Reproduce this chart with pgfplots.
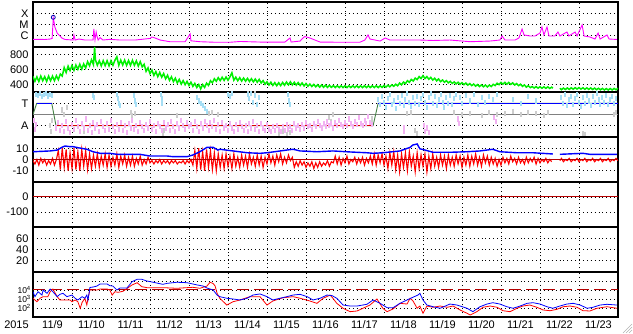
\documentclass[border=0pt]{standalone}
\usepackage{pgfplots}
\pgfplotsset{compat=1.18}
\usepackage{fontspec}
\setmainfont{Liberation Sans}
\definecolor{mag}{RGB}{255,0,255}
\definecolor{grn}{RGB}{0,240,0}
\definecolor{ltblue}{RGB}{165,222,245}
\definecolor{ltpink}{RGB}{242,178,242}
\definecolor{ltgray}{RGB}{205,205,205}
\definecolor{midgray}{RGB}{128,128,128}
\definecolor{dred}{RGB}{180,0,0}
\definecolor{stepgreen}{RGB}{70,130,70}
\newcommand{\lbl}{\fontsize{11}{12}\selectfont}
\newcommand{\slbl}{\fontsize{8.5}{8.5}\selectfont}
\newcommand{\rtf}{\fontsize{9}{9}\selectfont}
\pgfplotsset{
 panel/.style={scale only axis, width=585pt, height=45pt, xmin=0, xmax=15,
   axis line style={black, line width=1.2pt},
   xtick={0.5,1.5,...,14.5}, xticklabels={}, minor xtick={1,...,14},
   xminorgrids=true, xmajorgrids=false, ymajorgrids=true,
   minor grid style={black, line width=0.9pt, dash pattern=on 0.9pt off 3pt},
   major grid style={black, line width=0.9pt, dash pattern=on 0.9pt off 3pt},
   major tick length=0pt, minor tick length=0pt,
   yticklabel style={font=\lbl, anchor=east, xshift=-1pt},
   xticklabel style={font=\lbl},
   unbounded coords=jump, anchor=north west,
 },
 zig/.style={mark=|, only marks, mark size=2.6pt, mark options={line width=2pt}},
}
\begin{document}
\begin{tikzpicture}
\path[use as bounding box] (0,0) rectangle (633pt,-334pt);
% X-ray
\begin{axis}[panel, at={(33pt,-2pt)}, ymin=-7, ymax=-3, ytick={-6,-5,-4}, yticklabels={C,M,X}]
\addplot[mag, line width=0.9pt] table {
0 -6.32
0.31 -6.33
0.44 -6.29
0.49 -6.24
0.52 -4.42
0.54 -4.78
0.56 -5.22
0.62 -5.76
0.69 -6.02
0.74 -6.2
0.82 -6.33
1.03 -6.38
1.05 -5.93
1.08 -6.38
1.18 -6.29
1.33 -6.38
1.54 -6.38
1.56 -5.4
1.59 -6.38
1.62 -5.67
1.64 -6.02
1.67 -6.38
1.72 -6.16
1.79 -6.38
1.97 -6.32
2.23 -6.38
2.62 -6.38
3.0 -6.24
3.05 -6.11
3.13 -6.2
3.26 -6.38
3.51 -6.53
3.9 -6.53
4.03 -5.84
4.05 -6.45
4.28 -6.53
4.67 -6.58
5.05 -6.58
5.31 -6.51
5.82 -6.56
6.46 -6.56
6.59 -6.2
6.62 -6.56
6.85 -6.47
6.92 -6.2
6.97 -6.07
7.10 -6.2
7.23 -6.38
7.36 -6.56
7.87 -6.58
8.38 -6.58
8.51 -6.38
8.59 -5.93
8.64 -6.29
8.90 -6.47
9.03 -6.2
9.15 -6.38
9.41 -6.38
9.92 -6.38
10.26 -6.42
10.69 -6.38
11.21 -6.53
11.72 -6.47
11.97 -6.38
12.03 -6.02
12.10 -6.38
12.36 -6.38
12.46 -6.2
12.54 -5.4
12.59 -5.93
12.74 -6.02
12.87 -6.02
13.0 -5.76
13.05 -5.22
13.10 -5.93
13.18 -5.22
13.23 -6.02
13.38 -6.02
13.46 -5.67
13.51 -6.02
13.69 -5.67
13.74 -6.02
13.90 -5.67
13.95 -6.02
14.08 -5.04
14.13 -6.02
14.28 -6.11
14.41 -6.29
14.49 -5.76
14.54 -6.29
14.72 -5.93
14.77 -6.29
14.97 -6.33
};
\addplot[only marks, mark=o, mark size=2pt, blue!70!black, mark options={line width=0.8pt}] coordinates {(0.52,-4.36)};
\node[font=\rtf, anchor=west] at (rel axis cs:1,0.78) {rt};
\end{axis}
% Solar wind speed
\begin{axis}[panel, at={(33pt,-47pt)}, ymin=300, ymax=900, ytick={400,600,800}, yticklabels={400,600,800}]
\addplot[grn, line width=1.5pt] table {
0.00 508
0.05 443
0.10 502
0.15 439
0.20 513
0.25 450
0.30 505
0.35 441
0.40 512
0.45 450
0.50 512
0.55 451
0.60 517
0.65 464
0.70 540
0.75 513
0.80 625
0.85 560
0.90 645
0.95 585
1.00 655
1.05 589
1.10 660
1.15 602
1.20 671
1.25 606
1.30 675
1.35 620
1.40 705
1.45 650
1.50 730
1.55 665
1.58 900
1.60 730
1.65 657
1.70 717
1.75 649
1.80 718
1.85 651
1.90 718
1.95 648
2.00 717
2.05 656
2.10 723
2.15 770
2.20 655
2.25 725
2.30 660
2.35 725
2.40 655
2.45 720
2.50 655
2.55 723
2.60 655
2.65 716
2.70 645
2.75 705
2.80 635
2.85 670
2.90 575
2.95 622
3.00 545
3.05 592
3.10 520
3.15 572
3.20 505
3.25 561
3.30 497
3.35 546
3.40 475
3.45 524
3.50 455
3.55 502
3.60 437
3.65 484
3.70 420
3.75 468
3.80 405
3.85 452
3.90 397
3.95 442
4.00 387
4.05 431
4.10 375
4.15 414
4.20 360
4.25 400
4.30 341
4.35 399
4.40 361
4.45 418
4.50 388
4.55 450
4.60 423
4.65 477
4.70 443
4.75 491
4.80 451
4.85 497
4.90 454
4.95 500
5.00 457
5.05 502
5.10 557
5.15 457
5.20 498
5.25 450
5.30 491
5.35 446
5.40 486
5.45 444
5.50 482
5.55 440
5.60 478
5.65 435
5.70 473
5.75 430
5.80 468
5.85 420
5.90 452
5.95 404
6.00 436
6.05 393
6.10 431
6.15 388
6.20 425
6.25 384
6.30 423
6.35 385
6.40 428
6.45 390
6.50 433
6.55 395
6.60 436
6.65 394
6.70 430
6.75 392
6.80 426
6.85 387
6.90 421
6.95 381
7.00 413
7.05 377
7.10 405
7.15 373
7.20 401
7.25 369
7.30 397
7.35 365
7.40 394
7.45 363
7.50 392
7.55 361
7.60 390
7.65 362
7.70 385
7.75 360
7.80 384
7.85 359
7.90 383
7.95 359
8.00 383
8.05 359
8.10 383
8.15 359
8.20 383
8.25 359
8.30 383
8.35 359
8.40 383
8.45 359
8.50 383
8.55 359
8.60 383
8.65 359
8.70 383
8.75 359
8.80 383
8.85 359
8.90 383
8.95 361
9.00 387
9.05 365
9.10 391
9.15 369
9.20 395
9.25 376
9.30 404
9.35 383
9.40 420
9.45 396
9.50 433
9.55 412
9.60 451
9.65 429
9.70 468
9.75 446
9.80 485
9.85 465
9.90 505
9.95 480
10.00 518
10.05 480
10.10 505
10.15 470
10.20 495
10.25 459
10.30 484
10.35 449
10.40 474
10.45 438
10.50 460
10.55 431
10.60 451
10.65 422
10.70 442
10.75 414
10.80 434
10.85 408
10.90 430
10.95 403
11.00 425
11.05 398
11.10 420
11.15 392
11.20 412
11.25 385
11.30 406
11.35 378
11.40 399
11.45 373
11.50 395
11.55 370
11.60 393
11.65 368
11.70 392
11.75 373
11.80 402
11.85 386
11.90 417
11.95 398
12.00 428
12.05 404
12.10 428
12.15 404
12.20 428
12.25 401
12.30 422
12.35 393
12.40 412
12.45 384
12.50 404
12.55 375
12.60 394
12.65 365
12.70 384
12.75 358
12.80 373
12.85 353
12.90 372
12.95 351
13.00 370
13.05 350
13.10 369
13.15 349
13.20 368
13.25 347
13.30 365
13.33 350
13.40 nan
13.51 350
13.55 331
13.60 352
13.65 333
13.70 354
13.75 335
13.80 356
13.85 337
13.90 358
13.95 339
14.00 359
14.05 338
14.10 357
14.15 336
14.20 355
14.25 335
14.30 354
14.35 333
14.40 352
14.45 331
14.50 350
14.55 329
14.60 348
14.65 327
14.70 346
14.75 326
14.80 347
14.85 327
14.90 348
14.95 329
15.00 350
};
\node[font=\rtf, anchor=west] at (rel axis cs:1,0.78) {rt};
\end{axis}
% Sector
\begin{axis}[panel, at={(33pt,-92pt)}, ymin=0, ymax=4, ytick={1,3}, yticklabels={A,T}]
\addplot[zig, ltgray] coordinates {
(0.44,1.0) (0.46,0.5) (0.48,1.5) (0.75,2.4) (0.8,2.0) (0.88,2.6) (1.3,0.5)
(2.5,2.2) (2.55,1.9) (2.62,2.1) (3.33,0.3) (3.35,0.6) (3.7,1.9)
(4.5,2.1) (4.6,2.2) (4.75,2.0) (5.5,3.9) (5.6,3.85) (5.7,3.9)
(6.3,0.3) (6.4,0.5) (6.5,0.2) (6.6,0.4) (7.6,1.7) (7.65,1.4) (7.7,2.0)
(8.7,1.6) (9.6,2.1) (9.7,2.2) (9.8,0.6) (9.85,0.3) (10.8,2.2) (11.0,2.0)
(11.2,2.1) (11.5,1.9) (11.7,2.2) (11.9,2.0) (12.1,2.1) (12.3,2.3)
(12.5,2.0) (12.7,2.2) (12.9,2.1) (13.1,1.9) (13.2,2.2) (14.1,0.3)
(14.15,0.2) (14.9,2.0) (14.95,2.2)};
\addplot[zig, ltpink] coordinates {
(0.02,1.5) (0.05,0.7) (0.08,1.1)
(0.6,0.8) (0.65,1.3) (0.7,0.6) (0.75,1.0) (0.8,0.5) (0.85,1.4) (0.9,0.8) (0.95,0.4)
(1.0,1.1) (1.05,0.7) (1.1,1.5) (1.15,0.9) (1.2,0.5) (1.25,1.2) (1.3,0.8) (1.35,1.6)
(1.4,0.6) (1.45,1.0) (1.5,0.4) (1.55,1.3) (1.6,0.8) (1.65,1.1) (1.7,0.5) (1.75,1.4)
(1.8,0.9) (1.85,0.6) (1.9,1.2) (1.95,0.7) (2.0,1.5) (2.05,0.9) (2.1,0.5) (2.15,1.1)
(2.2,0.7) (2.25,1.3) (2.3,0.6) (2.35,1.0) (2.4,0.4) (2.45,1.2) (2.5,0.8) (2.55,1.5)
(2.6,0.7) (2.65,1.0) (2.7,0.5) (2.75,1.3) (2.8,0.9) (2.85,0.6) (2.9,1.1) (2.95,0.8)
(3.0,1.4) (3.05,0.7) (3.1,1.0) (3.15,0.5) (3.2,1.2) (3.25,0.9) (3.3,0.6) (3.35,1.3)
(3.4,0.8) (3.45,1.1) (3.5,0.6) (3.55,1.4) (3.6,0.9) (3.65,0.5) (3.7,1.2) (3.75,0.8)
(3.8,1.5) (3.85,1.0) (3.9,0.7) (3.95,1.3) (4.0,0.9) (4.05,1.1) (4.1,0.6) (4.15,1.4)
(4.2,0.9) (4.25,0.5) (4.3,1.2) (4.35,0.8) (4.4,1.4) (4.45,1.0) (4.5,0.6) (4.55,1.3)
(4.6,0.9) (4.65,1.5) (4.7,0.7) (4.75,1.1) (4.8,0.5) (4.85,1.3) (4.9,0.8) (4.95,1.0)
(5.0,0.6) (5.05,1.2) (5.1,0.8) (5.15,0.5) (5.2,1.1) (5.25,0.7) (5.3,1.3) (5.35,0.9)
(5.4,0.6) (5.45,1.0) (5.5,0.5) (5.55,1.2) (5.6,0.8) (5.65,1.4) (5.7,0.7) (5.75,1.0)
(5.8,0.5) (5.85,1.2) (5.9,0.8) (5.95,0.6) (6.0,1.1) (6.05,0.7) (6.1,0.5) (6.15,0.9)
(6.2,0.6) (6.25,1.0) (6.3,0.7) (6.35,0.5) (6.4,0.9) (6.45,0.6) (6.5,1.1) (6.55,0.7)
(6.6,0.9) (6.65,0.6) (6.7,1.2) (6.75,0.8) (6.8,1.0) (6.85,0.7) (6.9,1.1) (6.95,0.8)
(7.0,1.3) (7.05,0.9) (7.1,1.0) (7.15,0.7) (7.2,1.2) (7.25,0.9) (7.3,1.4) (7.35,1.0)
(7.4,0.8) (7.45,1.2) (7.5,0.9) (7.55,1.4) (7.6,1.0) (7.65,1.2) (7.7,0.8) (7.75,1.3)
(7.8,1.0) (7.85,1.5) (7.9,1.1) (7.95,0.9) (8.0,1.3) (8.05,1.0) (8.1,1.6) (8.15,1.2)
(8.2,0.9) (8.25,1.4) (8.3,1.1) (8.35,1.7) (8.4,1.2) (8.45,1.0) (8.5,1.5) (8.55,1.2)
(8.6,1.8) (8.65,1.3) (8.7,1.1)
(9.5,0.8) (9.52,0.5) (10.02,1.0) (10.06,0.5) (10.1,0.8) (10.15,0.4) (10.9,1.6)
(10.93,1.2) (11.82,1.7) (11.86,1.4)};
\addplot[zig, ltblue] coordinates {
(0.08,3.8) (0.12,3.7) (0.18,3.85) (0.22,3.6) (0.28,3.75) (0.33,3.9) (0.38,3.65) (0.44,3.8) (0.48,3.7)
(1.54,3.7) (1.56,3.5) (2.15,3.8) (2.18,3.4) (2.2,3.0) (2.22,2.8)
(2.58,3.7) (2.62,3.2) (2.65,2.9) (3.27,3.8) (3.3,3.4) (3.32,3.0)
(4.2,3.5) (4.25,3.2) (4.3,3.0) (4.35,2.8) (4.4,2.5) (4.45,2.3)
(5.0,3.8) (5.05,3.6) (5.1,3.9) (5.5,3.8) (5.55,3.4) (5.6,3.9) (5.65,3.1) (5.7,3.7) (5.75,2.9) (5.8,3.5)
(6.54,3.8) (6.57,3.2) (6.59,2.9)
(8.85,3.3) (8.9,2.9) (8.95,3.6) (9.0,3.1) (9.05,2.6) (9.1,3.4) (9.15,3.8) (9.2,2.9) (9.25,3.2)
(9.3,2.5) (9.35,3.5) (9.4,3.0) (9.45,3.7) (9.5,2.8) (9.55,3.3) (9.6,3.9) (9.65,3.1) (9.7,2.7)
(9.75,3.5) (9.8,3.0) (9.85,3.6) (9.9,2.9) (9.95,3.4) (10.0,3.8) (10.05,3.1) (10.1,2.6)
(10.15,3.5) (10.2,3.9) (10.25,3.0) (10.3,3.6) (10.35,2.8) (10.4,3.3) (10.45,3.8) (10.5,3.1)
(10.55,2.6) (10.6,3.5) (10.65,3.0) (10.7,3.7) (10.75,2.9) (10.8,3.4) (10.85,3.8)
(10.95,3.5) (11.0,3.0) (11.1,3.7) (11.2,3.2) (11.3,3.8) (11.4,2.9) (11.5,3.5) (11.6,3.1)
(11.7,3.6) (11.8,3.3) (11.9,3.8) (12.3,3.3) (12.5,3.0) (12.7,3.6) (12.9,3.2)
(13.55,3.5) (13.6,3.0) (13.65,3.8) (13.7,2.8) (13.75,3.3) (13.8,3.6) (13.85,2.9) (13.9,3.4)
(13.95,3.8) (14.0,3.1) (14.05,2.7) (14.1,3.5) (14.15,3.0) (14.2,3.7) (14.25,3.2) (14.3,2.8)
(14.35,3.6) (14.4,3.1) (14.45,3.9) (14.5,3.3) (14.55,2.9) (14.6,3.5) (14.65,3.1) (14.7,3.7)
(14.75,2.9) (14.8,3.3) (14.85,3.6) (14.9,3.0) (14.95,3.4)};
\addplot[midgray, line width=1pt] coordinates {(0,2) (15,2)};
\addplot[stepgreen, line width=0.9pt] coordinates {(0,2) (0.095,3) (0.48,3) (0.59,1) (8.72,1) (8.85,3) (15,3)};
\addplot[blue, line width=0.9pt] coordinates {(0.095,3) (0.48,3)};
\addplot[red!85!black, line width=0.9pt] coordinates {(0.59,1) (8.72,1)};
\addplot[blue, line width=0.9pt] coordinates {(8.85,3) (15,3)};
\node[font=\rtf, anchor=west] at (rel axis cs:1,0.78) {rt};
\end{axis}
% IMF
\begin{axis}[panel, at={(33pt,-137pt)}, ymin=-20, ymax=20, ytick={-10,0,10}, yticklabels={-10,0,10}]
\addplot[red, line width=1.1pt] table {
0.00 -1
0.05 -4
0.10 0
0.15 -5
0.20 1
0.25 -3
0.30 0
0.35 -5
0.40 -1
0.45 -4
0.50 1
0.55 -5
0.60 0
0.65 8
0.70 -9
0.75 10
0.80 -7
0.85 9
0.90 -10
0.95 6
1.00 -8
1.05 10
1.10 -9
1.15 7
1.20 -10
1.25 9
1.30 -6
1.35 8
1.40 -9
1.45 5
1.50 -8
1.55 4
1.60 -6
1.65 5
1.70 -7
1.75 3
1.80 -5
1.85 5
1.90 -7
1.95 4
2.00 -6
2.05 2
2.10 -5
2.15 5
2.20 -7
2.25 3
2.30 -4
2.35 4
2.40 -6
2.45 2
2.50 -5
2.55 3
2.60 -6
2.65 1
2.70 -4
2.75 3
2.80 -5
2.85 0
2.90 -4
2.95 2
3.00 -3
3.05 -1
3.10 -4
3.15 -1
3.20 -3
3.25 0
3.30 -4
3.35 -1
3.40 -3
3.45 -1
3.50 -4
3.55 -1
3.60 -3
3.65 -1
3.70 -4
3.75 -2
3.80 -3
3.85 -1
3.90 -4
3.95 -1
4.00 -3
4.05 0
4.10 -5
4.15 8
4.20 -8
4.25 10
4.30 -9
4.35 7
4.40 -10
4.45 9
4.50 -7
4.55 8
4.60 -9
4.65 6
4.70 -10
4.75 5
4.80 -7
4.85 4
4.90 -8
4.95 5
5.00 -6
5.05 3
5.10 -8
5.15 5
5.20 -6
5.25 2
5.30 -7
5.35 4
5.40 -5
5.45 3
5.50 -7
5.55 5
5.60 -4
5.65 2
5.70 -6
5.75 4
5.80 -5
5.85 3
5.90 -7
5.95 2
6.00 -4
6.05 5
6.10 -3
6.15 3
6.20 -5
6.25 4
6.30 -2
6.35 5
6.40 -4
6.45 2
6.50 -3
6.55 4
6.60 -1
6.65 2
6.70 -7
6.75 -2
6.80 -6
6.85 -1
6.90 -5
6.95 -2
7.00 -7
7.05 -3
7.10 -6
7.15 -2
7.20 -8
7.25 -3
7.30 -7
7.35 -2
7.40 -6
7.45 -3
7.50 -5
7.55 -1
7.60 -6
7.65 -2
7.70 -3
7.75 3
7.80 -4
7.85 2
7.90 -5
7.95 1
8.00 -3
8.05 3
8.10 -4
8.15 0
8.20 -2
8.25 2
8.30 -4
8.35 1
8.40 -3
8.45 2
8.50 -5
8.55 1
8.60 -3
8.65 3
8.70 -4
8.75 5
8.80 -5
8.85 4
8.90 -3
8.95 5
9.00 -5
9.05 3
9.10 -8
9.15 6
9.20 -5
9.25 7
9.30 -9
9.35 4
9.40 -11
9.45 5
9.50 -7
9.55 6
9.60 -10
9.65 7
9.70 -6
9.75 3
9.80 -11
9.85 6
9.90 -8
9.95 4
10.00 -6
10.05 5
10.10 -11
10.15 3
10.20 -8
10.25 5
10.30 -6
10.35 2
10.40 -7
10.45 4
10.50 -5
10.55 3
10.60 -8
10.65 4
10.70 -5
10.75 2
10.80 -6
10.85 4
10.90 -4
10.95 3
11.00 -7
11.05 2
11.10 -5
11.15 4
11.20 -6
11.25 3
11.30 -4
11.35 5
11.40 -5
11.45 2
11.50 -6
11.55 4
11.60 -3
11.65 3
11.70 -5
11.75 2
11.80 -4
11.85 1
11.90 -6
11.95 0
12.00 -5
12.05 2
12.10 -3
12.15 1
12.20 -4
12.25 3
12.30 -2
12.35 1
12.40 -4
12.45 2
12.50 -3
12.55 0
12.60 -4
12.65 2
12.70 -3
12.75 1
12.80 -2
12.85 2
12.90 -4
12.95 1
13.00 -3
13.05 0
13.10 -2
13.15 1
13.20 -3
13.25 0
13.30 -2
13.40 nan
13.51 -1
13.55 1
13.60 -2
13.65 0
13.70 -1
13.75 1
13.80 -2
13.85 0
13.90 -1
13.95 1
14.00 -2
14.05 0
14.10 -1
14.15 1
14.20 -2
14.25 0
14.30 -1
14.35 1
14.40 -2
14.45 0
14.50 -1
14.55 1
14.60 -2
14.65 0
14.70 -1
14.75 1
14.80 -2
14.85 0
14.90 -1
14.95 1
15.00 -1
};
\addplot[dred, line width=0.9pt] coordinates {(0,0) (15,0)};
\addplot[blue, line width=1.4pt] table {
0 6.9
0.44 7.6
0.62 8.4
0.74 10.8
0.82 12.0
0.95 11.4
1.03 11.4
1.15 10.5
1.38 9.1
1.54 6.9
1.72 5.5
1.97 5.5
2.15 4.6
2.74 4.6
3.0 3.1
3.44 3.1
3.59 2.5
3.95 2.5
4.10 4.0
4.28 6.9
4.46 10.8
4.62 10.8
4.74 8.4
4.79 9.1
5.13 7.6
5.49 6.0
5.82 5.5
6.0 6.0
6.51 8.4
6.67 9.1
6.85 7.6
7.28 6.9
7.69 7.6
8.13 6.7
8.56 6.0
8.72 5.5
8.97 6.0
9.41 7.6
9.67 10.8
9.74 12.9
9.85 13.8
9.92 9.5
10.05 8.4
10.26 6.4
10.69 6.4
11.13 6.9
11.46 7.6
11.79 9.1
11.97 6.9
12.41 6.0
12.82 6.0
13.33 4.9
13.40 nan
13.51 4.6
14.10 5.5
14.28 4.6
14.97 4.6
};
\node[font=\rtf, anchor=west] at (rel axis cs:1,0.78) {rt};
\end{axis}
% Dst
\begin{axis}[panel, at={(33pt,-182pt)}, ymin=-200, ymax=100, ytick={-100,0}, yticklabels={-100,0}]
\addplot[dred, line width=1pt] coordinates {(0,0) (15,0)};
\end{axis}
% Kp-like
\begin{axis}[panel, at={(33pt,-227pt)}, ymin=0, ymax=80, ytick={20,40,60}, yticklabels={20,40,60}]
\end{axis}
% Electron flux
\begin{axis}[panel, at={(33pt,-272pt)}, ymin=1, ymax=6, ytick={2,3,4,5},
  yticklabel style={font=\slbl, anchor=east, xshift=-1pt, inner sep=0pt},
  yticklabels={10\textsuperscript{2},10\textsuperscript{3},10\textsuperscript{4},{}},
  xticklabels={11/9,11/10,11/11,11/12,11/13,11/14,11/15,11/16,11/17,11/18,11/19,11/20,11/21,11/22,11/23}]
\addplot[dred, line width=1pt, dash pattern=on 12pt off 5pt] coordinates {(0,4) (15,4)};
\addplot[red, line width=0.8pt] table {
0 3.08
0.10 2.70
0.18 3.08
0.26 3.26
0.38 3.26
0.44 3.81
0.51 4.11
0.62 3.26
0.69 2.89
0.95 2.89
1.0 2.70
1.08 2.89
1.15 2.70
1.21 1.97
1.26 2.63
1.33 3.08
1.38 2.33
1.41 3.08
1.46 4.0
1.64 4.0
1.72 4.11
1.90 4.11
1.97 4.0
2.03 3.44
2.10 3.81
2.18 3.74
2.31 3.86
2.54 4.56
2.67 4.81
2.79 4.37
2.92 4.26
3.33 4.26
3.69 4.19
4.10 4.30
4.28 4.19
4.46 4.44
4.54 4.86
4.62 4.72
4.67 4.44
4.72 3.63
4.79 3.08
4.97 2.33
5.13 2.70
5.31 2.89
5.56 3.26
5.82 3.26
6.0 2.33
6.15 2.78
6.41 3.14
6.67 3.26
6.85 3.08
7.10 2.78
7.28 2.52
7.44 3.08
7.62 3.44
7.69 3.08
7.79 2.52
7.95 1.97
8.13 1.59
8.31 1.67
8.46 1.97
8.64 2.33
8.82 3.0
8.97 1.97
9.08 1.59
9.23 1.89
9.41 2.52
9.59 2.44
9.67 3.08
9.74 2.81
9.85 1.97
9.92 2.22
10.0 1.41
10.10 2.22
10.26 2.08
10.44 2.22
10.62 2.08
10.77 2.22
10.95 1.78
11.13 1.41
11.21 1.22
11.38 1.59
11.54 2.08
11.72 2.22
11.90 2.08
12.05 1.70
12.23 1.59
12.41 1.97
12.56 2.22
12.74 2.33
12.92 2.08
13.08 1.78
13.26 1.70
13.44 1.86
13.59 2.14
13.77 2.22
13.95 2.08
14.10 1.70
14.28 1.67
14.46 1.97
14.72 2.14
14.97 1.97
};
\addplot[blue, line width=0.8pt] table {
0 3.81
0.05 3.26
0.13 3.81
0.23 3.44
0.26 4.0
0.36 3.63
0.44 4.11
0.51 3.81
0.62 3.26
0.69 3.52
0.77 3.63
0.87 3.26
1.0 3.44
1.08 3.08
1.15 2.89
1.26 3.26
1.33 3.08
1.38 3.44
1.41 2.89
1.46 4.28
1.54 4.33
1.64 4.44
1.72 4.67
1.90 4.67
1.97 4.48
2.05 4.44
2.15 4.0
2.23 4.22
2.41 4.22
2.54 4.92
2.67 5.19
2.79 5.19
2.92 5.0
3.08 4.86
3.33 4.63
3.44 4.74
3.69 4.86
3.95 4.81
4.21 4.56
4.36 4.44
4.46 4.22
4.62 4.0
4.72 3.44
4.79 3.26
4.97 3.08
5.13 3.0
5.31 2.89
5.49 3.08
5.64 3.44
5.82 3.56
6.0 3.26
6.15 2.89
6.33 3.08
6.51 3.26
6.67 3.44
6.85 3.52
7.03 3.26
7.18 2.89
7.36 3.08
7.54 3.44
7.67 3.37
7.79 3.08
7.95 2.33
8.13 2.22
8.31 2.22
8.56 2.41
8.72 2.89
8.90 2.52
9.08 2.03
9.23 2.03
9.41 2.52
9.59 2.89
9.74 3.19
9.87 3.44
9.92 3.63
10.0 2.89
10.10 2.33
10.26 2.14
10.44 1.97
10.69 2.44
10.87 2.33
11.13 1.97
11.28 1.59
11.46 2.14
11.64 2.44
11.79 2.59
11.97 2.44
12.15 2.14
12.31 1.97
12.49 2.22
12.67 2.52
12.82 2.59
13.0 2.44
13.18 2.14
13.33 1.97
13.51 2.22
13.69 2.44
13.85 2.52
14.03 2.33
14.21 1.97
14.36 2.08
14.54 2.33
14.72 2.41
14.97 2.33
};
\node[font=\rtf, anchor=west] at (rel axis cs:1,0.78) {rt};
\end{axis}
\node[font=\lbl] at (16.5pt,-324.5pt) {2015};
\draw[gray!60, line width=0.7pt] (623pt,-333pt) -- (632pt,-324pt);
\draw[gray!60, line width=0.7pt] (626pt,-333pt) -- (632pt,-327pt);
\draw[gray!60, line width=0.7pt] (629pt,-333pt) -- (632pt,-330pt);
\end{tikzpicture}
\end{document}
